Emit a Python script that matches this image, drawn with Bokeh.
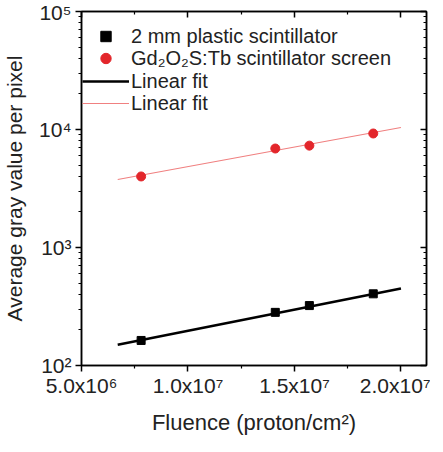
from bokeh.plotting import figure
from bokeh.models import (Range1d, FixedTicker, LinearAxis, LogAxis, Legend, LegendItem,
                          CustomLabelingPolicy)
from bokeh.embed import file_html
from bokeh.resources import INLINE

# ---- data ----
fluence = [7.8e6, 1.41e7, 1.57e7, 1.87e7]
plastic = [163, 282, 322, 405]
gos = [4000, 6900, 7300, 9250]
fit_x = [6.7e6, 2.0e7]
plastic_fit = [150, 450]
gos_fit = [3770, 10400]

x_ticks = [5e6, 1e7, 1.5e7, 2e7]
x_tick_labels = ["5.0x10\u2076", "1.0x10\u2077", "1.5x10\u2077", "2.0x10\u2077"]
x_minor = [7.5e6, 1.25e7, 1.75e7]
y_ticks = [1e2, 1e3, 1e4, 1e5]
y_tick_labels = ["10\u00b2", "10\u00b3", "10\u2074", "10\u2075"]
y_minor = [200, 300, 400, 500, 600, 700, 800, 900,
           2000, 3000, 4000, 5000, 6000, 7000, 8000, 9000,
           20000, 30000, 40000, 50000, 60000, 70000, 80000, 90000]

labels = ["2 mm plastic scintillator", "Gd\u2082O\u2082S:Tb scintillator screen", "Linear fit", "Linear fit"]

FONT = "Liberation Sans"
RED = "#e3262b"
TEXT = "#222222"

p = figure(frame_width=345, frame_height=354, output_backend="svg", toolbar_location=None,
           y_axis_type="log", x_axis_location=None, y_axis_location=None,
           x_range=Range1d(5e6, 2.12e7), y_range=Range1d(100, 1e5),
           min_border_left=79, min_border_top=11, min_border_right=3, min_border_bottom=71)
p.grid.visible = False
p.outline_line_color = "black"
p.outline_line_width = 1.5
p.background_fill_color = "white"
p.border_fill_color = "white"

xt = FixedTicker(ticks=x_ticks, minor_ticks=x_minor)
yt = FixedTicker(ticks=y_ticks, minor_ticks=y_minor)

hide_all = CustomLabelingPolicy(code="for (const i of Array.from(indices)) { indices.unset(i) }; return indices")

def style(ax, show_labels):
    ax.axis_line_color = "black"
    ax.axis_line_width = 1.5
    ax.major_tick_line_width = 1.5
    ax.minor_tick_line_width = 1.2
    ax.major_label_text_font = FONT
    ax.axis_label_text_font = FONT
    ax.axis_label_text_font_style = "normal"
    ax.axis_label_text_color = TEXT
    ax.major_label_text_color = TEXT
    ax.major_label_text_font_size = "21px"
    ax.axis_label_text_font_size = "21px"
    if show_labels:
        ax.major_tick_in = 0
        ax.major_tick_out = 6
        ax.minor_tick_in = 0
        ax.minor_tick_out = 3
    else:
        ax.major_tick_in = 6
        ax.major_tick_out = 0
        ax.minor_tick_in = 3
        ax.minor_tick_out = 0
        ax.major_label_policy = hide_all
        ax.major_label_text_font_size = "1px"
        ax.major_label_standoff = 0

xb = LinearAxis(ticker=xt, axis_label="Fluence (proton/cm\u00b2)",
                major_label_overrides=dict(zip(x_ticks, x_tick_labels)))
style(xb, True)
xb.major_label_standoff = 2
xb.axis_label_standoff = 10
xb.axis_label_text_font_size = "22px"
p.add_layout(xb, "below")

xtop = LinearAxis(ticker=xt)
style(xtop, False)
p.add_layout(xtop, "above")

yl = LogAxis(ticker=yt, axis_label="Average gray value per pixel",
             major_label_overrides=dict(zip(y_ticks, y_tick_labels)))
style(yl, True)
yl.major_label_standoff = 4
yl.axis_label_standoff = 10
p.add_layout(yl, "left")

yr = LogAxis(ticker=yt)
style(yr, False)
p.add_layout(yr, "right")

r_fit1 = p.line(fit_x, plastic_fit, line_color="black", line_width=2.5)
r_fit2 = p.line(fit_x, gos_fit, line_color="#f08080", line_width=1.2)
r_pl = p.scatter(fluence, plastic, marker="square", size=8, fill_color="black", line_color="black")
r_gos = p.scatter(fluence, gos, marker="circle", size=9, fill_color=RED, line_color=RED)

def make_legend(label, renderer, vy):
    lg = Legend(items=[LegendItem(label=label, renderers=[renderer])], location=(1, vy))
    lg.border_line_color = None
    lg.background_fill_alpha = 0
    lg.margin = 0
    lg.padding = 0
    lg.spacing = 0
    lg.glyph_width = 47
    lg.label_standoff = 2
    lg.label_text_font = FONT
    lg.label_text_font_size = "20px"
    lg.label_text_color = TEXT
    lg.label_height = 26
    lg.glyph_height = 26
    return lg

for lab, rend, vy in zip(labels, [r_pl, r_gos, r_fit1, r_fit2], [316, 294, 271, 249]):
    p.add_layout(make_legend(lab, rend, vy))

open("out.html", "w").write(file_html(p, INLINE))
